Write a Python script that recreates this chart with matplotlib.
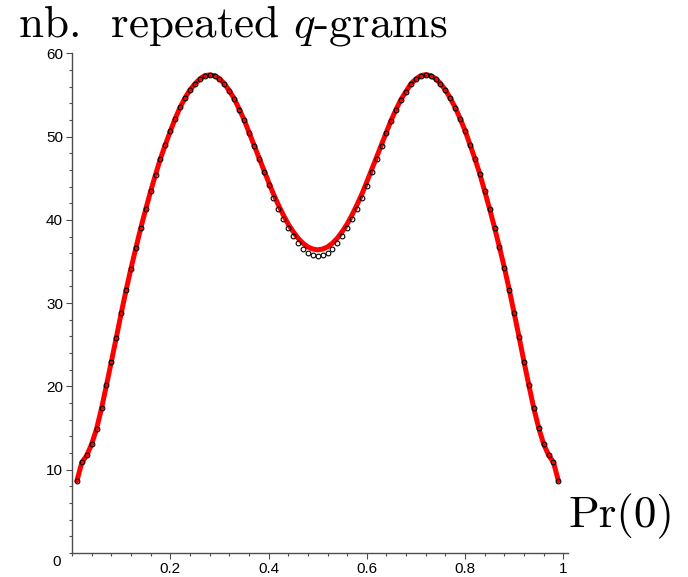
import numpy as np
import matplotlib
matplotlib.use("Agg")
import matplotlib.pyplot as plt
from matplotlib.ticker import FixedLocator, MultipleLocator

# simulated counts, Pr(0) = 0.01 ... 0.99
pr0 = [k / 100 for k in range(1, 100)]
sim_counts = [
    8.68, 10.88, 11.72, 13.08, 14.92, 17.36, 20.12, 22.96, 25.84, 28.76,
    31.56, 34.16, 36.64, 39.04, 41.28, 43.44, 45.44, 47.36, 49.04, 50.64,
    52.16, 53.52, 54.64, 55.60, 56.32, 56.92, 57.32, 57.40, 57.32, 56.96,
    56.36, 55.48, 54.52, 53.24, 51.96, 50.40, 48.84, 47.28, 45.72, 44.20,
    42.68, 41.36, 40.12, 39.00, 38.04, 37.20, 36.56, 36.08, 35.84, 35.72,
    35.84, 36.08, 36.56, 37.20, 38.04, 39.00, 40.08, 41.36, 42.68, 44.12,
    45.72, 47.28, 48.88, 50.44, 51.92, 53.24, 54.44, 55.40, 56.36, 56.92,
    57.32, 57.44, 57.32, 56.96, 56.36, 55.60, 54.60, 53.48, 52.16, 50.72,
    49.04, 47.36, 45.52, 43.44, 41.32, 39.08, 36.72, 34.28, 31.60, 28.80,
    25.92, 22.96, 20.12, 17.36, 15.00, 13.08, 11.76, 10.88, 8.68,
]
# theoretical curve (red), sits a bit higher in the valley
model_counts = [
    8.68, 10.88, 11.72, 13.08, 14.92, 17.36, 20.12, 22.96, 25.84, 28.76,
    31.56, 34.16, 36.64, 39.04, 41.28, 43.44, 45.44, 47.36, 49.04, 50.64,
    52.16, 53.52, 54.64, 55.60, 56.32, 56.92, 57.32, 57.40, 57.32, 56.96,
    56.36, 55.52, 54.58, 53.32, 52.06, 50.55, 49.05, 47.55, 46.05, 44.55,
    43.10, 41.80, 40.60, 39.50, 38.60, 37.80, 37.20, 36.75, 36.50, 36.40,
    36.50, 36.75, 37.20, 37.80, 38.60, 39.50, 40.60, 41.80, 43.10, 44.55,
    46.05, 47.55, 49.05, 50.55, 52.02, 53.32, 54.50, 55.44, 56.36, 56.92,
    57.32, 57.44, 57.32, 56.96, 56.36, 55.60, 54.60, 53.48, 52.16, 50.72,
    49.04, 47.36, 45.52, 43.44, 41.32, 39.08, 36.72, 34.28, 31.60, 28.80,
    25.92, 22.96, 20.12, 17.36, 15.00, 13.08, 11.76, 10.88, 8.68,
]

x_ticks = [0.2, 0.4, 0.6, 0.8, 1.0]
x_ticklabels = ["0.2", "0.4", "0.6", "0.8", "1"]
y_ticks = [10, 20, 30, 40, 50, 60]
y_ticklabels = ["10", "20", "30", "40", "50", "60"]

plt.rcParams["mathtext.fontset"] = "cm"

fig = plt.figure(figsize=(6.88, 5.77), dpi=100)
ax = fig.add_axes([0.1047, 0.0416, 0.7205, 0.866])

ax.plot(pr0, model_counts, color="red", lw=3.6, solid_capstyle="round", zorder=2)
ax.plot(pr0, sim_counts, ls="none", marker="o", ms=3.4, mfc="none",
        mec="black", mew=0.8, zorder=3)

ax.set_xlim(0, 1.009)
ax.set_ylim(0, 60)

for s in ["top", "right"]:
    ax.spines[s].set_visible(False)
for s in ["left", "bottom"]:
    ax.spines[s].set_color("0.3")
    ax.spines[s].set_linewidth(1.0)

ax.xaxis.set_major_locator(FixedLocator(x_ticks))
ax.set_xticklabels(x_ticklabels)
ax.yaxis.set_major_locator(FixedLocator(y_ticks))
ax.set_yticklabels(y_ticklabels)
ax.xaxis.set_minor_locator(MultipleLocator(0.04))
ax.yaxis.set_minor_locator(MultipleLocator(2))
ax.tick_params(which="major", length=4.5, width=0.8, color="0.3",
               labelsize=11, labelcolor="black", pad=2,
               labelfontfamily="Liberation Sans")
ax.tick_params(which="minor", length=2.5, width=0.8, color="0.3")

# origin label shared by both axes
fig.text(57 / 688, 1 - 562 / 577, "0", fontsize=11, family="Liberation Sans",
         ha="center", va="center")

fig.text(18 / 688, 1 - 37 / 577, r"nb.  repeated $q$-grams", family="cmr10",
         fontsize=32.5, ha="left", va="baseline")
fig.text(569 / 688, 1 - 527 / 577, "Pr(0)", family="cmr10",
         fontsize=32.5, ha="left", va="baseline")

fig.savefig("out.png", dpi=100)
